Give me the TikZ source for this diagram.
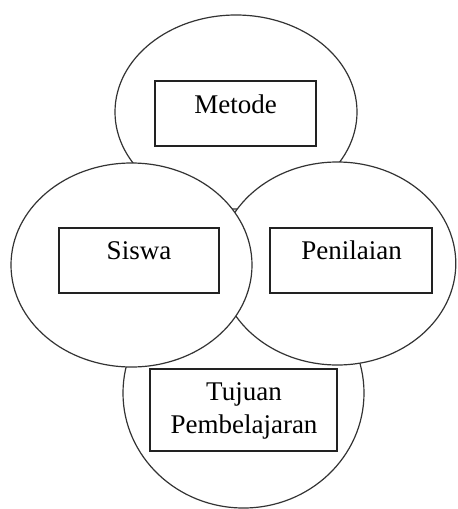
\documentclass[tikz,border=0pt]{standalone}
\usepackage{fontspec}
\setmainfont{Liberation Serif}
\usetikzlibrary{shapes.geometric}

\definecolor{edgegray}{HTML}{333333}
\definecolor{boxgray}{HTML}{222222}

\tikzset{
  circlearea/.style={ellipse, draw=edgegray, line width=1.2pt, fill=white,
    inner sep=0pt, outer sep=0pt},
  labelbox/.style={rectangle, draw=boxgray, line width=1.6pt, fill=white,
    inner sep=0pt, outer sep=0pt},
  labeltext/.style={inner sep=0pt, anchor=base,
    font=\fontsize{27}{33}\selectfont}
}

\begin{document}
\begin{tikzpicture}[x=1pt, y=-1pt]
  \useasboundingbox (0,0) rectangle (458,509);

  % top circle: Metode
  \node[circlearea, minimum width=242pt, minimum height=194pt] (metodeArea) at (236,112) {};
  \node[labelbox, minimum width=161pt, minimum height=65pt] (metodeBox) at (235.5,113.5) {};
  \node[labeltext] (metode) at (235.5,113) {Metode};

  % bottom circle: Tujuan Pembelajaran (lies behind the side circles)
  \node[circlearea, minimum width=241pt, minimum height=230pt] (tujuanArea) at (243.5,393) {};

  % right circle: Penilaian
  \node[circlearea, minimum width=237pt, minimum height=203pt] (penilaianArea) at (337.3,263.5) {};
  \node[labelbox, minimum width=162pt, minimum height=65pt] (penilaianBox) at (351,260.5) {};
  \node[labeltext] (penilaian) at (351.5,259.5) {Penilaian};

  % left circle: Siswa
  \node[circlearea, minimum width=241pt, minimum height=204pt] (siswaArea) at (131.5,265) {};
  \node[labelbox, minimum width=160pt, minimum height=65pt] (siswaBox) at (139,260.5) {};
  \node[labeltext] (siswa) at (139,259.5) {Siswa};

  % box of the bottom circle
  \node[labelbox, minimum width=187pt, minimum height=82pt] (tujuanBox) at (243.5,410) {};
  \node[labeltext] (tujuan) at (244,400) {Tujuan};
  \node[labeltext] (pembelajaran) at (244,433) {Pembelajaran};
\end{tikzpicture}
\end{document}
